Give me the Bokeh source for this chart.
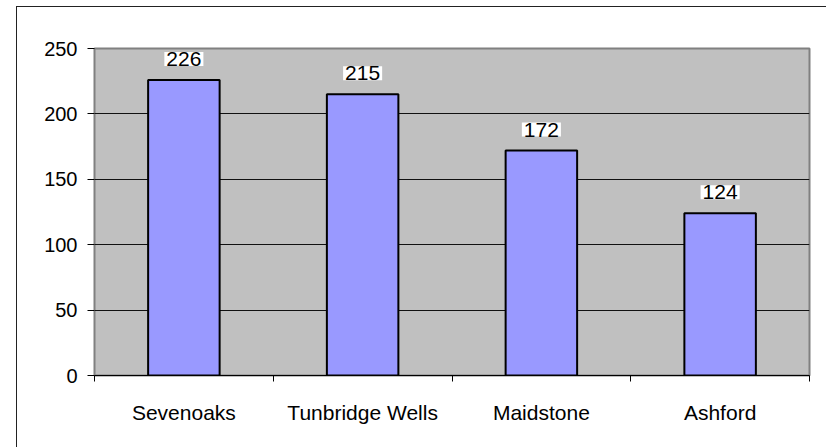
from bokeh.plotting import figure
from bokeh.models import Range1d, FixedTicker, Label
from bokeh.embed import file_html
from bokeh.resources import INLINE

# Data
categories = ["Sevenoaks", "Tunbridge Wells", "Maidstone", "Ashford"]
values = [226, 215, 172, 124]
y_ticks = [0, 50, 100, 150, 200, 250]

FONT = "Liberation Sans"

centers = [i + 0.5 for i in range(len(categories))]
bounds = [i for i in range(len(categories) + 1)]

p = figure(
    width=815, height=441,
    x_range=Range1d(0, len(categories)),
    y_range=Range1d(0, 250),
    output_backend="svg", toolbar_location=None,
    min_border_left=77, min_border_right=23,
    min_border_top=41, min_border_bottom=73,
)
# Chart frame: left and top rules around the whole chart
p.styles = {
    "margin-left": "16px", "margin-top": "6px",
    "border-left": "1px solid #222222", "border-top": "1px solid #222222",
}

p.background_fill_color = "#C0C0C0"
p.border_fill_color = "white"
p.outline_line_color = "#808080"
p.outline_line_width = 2

# Horizontal gridlines
p.xgrid.visible = False
p.ygrid.ticker = FixedTicker(ticks=y_ticks[1:-1])
p.ygrid.grid_line_color = "#111111"
p.ygrid.grid_line_width = 1

# Y axis
p.yaxis.ticker = FixedTicker(ticks=y_ticks)
p.yaxis.axis_line_color = None
p.yaxis.major_tick_line_color = "black"
p.yaxis.major_tick_out = 7
p.yaxis.major_tick_in = 0
p.yaxis.minor_tick_line_color = None
p.yaxis.major_label_standoff = 10
p.yaxis.major_label_text_font = FONT
p.yaxis.major_label_text_font_size = "20px"
p.yaxis.major_label_text_color = "black"

# X axis: labels at category centres, ticks at category boundaries
p.xaxis.ticker = FixedTicker(ticks=centers, minor_ticks=bounds)
p.xaxis.major_label_overrides = {c: name for c, name in zip(centers, categories)}
p.xaxis.axis_line_color = "black"
p.xaxis.axis_line_width = 1
p.xaxis.major_tick_line_color = None
p.xaxis.major_tick_out = 0
p.xaxis.major_tick_in = 0
p.xaxis.minor_tick_line_color = "black"
p.xaxis.minor_tick_out = 6
p.xaxis.minor_tick_in = 0
p.xaxis.major_label_standoff = 19
p.xaxis.major_label_text_font = FONT
p.xaxis.major_label_text_font_size = "21px"
p.xaxis.major_label_text_color = "black"

p.vbar(x=centers, top=values, width=0.4,
       fill_color="#9999FF", line_color="black", line_width=2)

# Value labels above the bars
for c, v in zip(centers, values):
    p.add_layout(Label(
        x=c, y=v, y_offset=21, text=str(v),
        text_align="center", text_baseline="middle",
        text_font=FONT, text_font_size="21px", text_color="black",
        background_fill_color="white", padding=(2, 0),
    ))

open("out.html", "w").write(file_html(p, INLINE))
